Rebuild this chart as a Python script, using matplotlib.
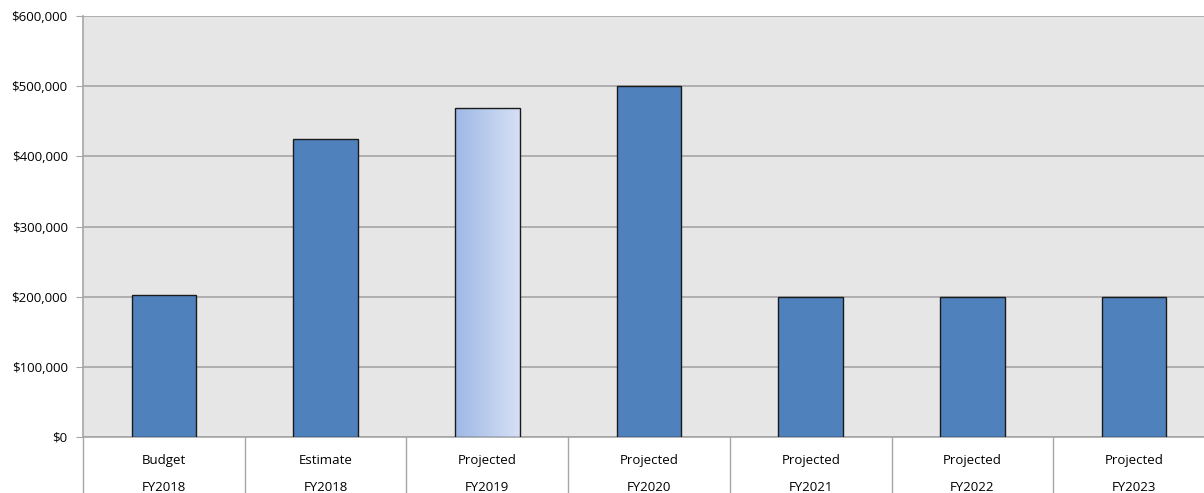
import numpy as np
import matplotlib.pyplot as plt
from matplotlib.ticker import FuncFormatter

# data
kinds = ['Budget', 'Estimate', 'Projected', 'Projected', 'Projected', 'Projected', 'Projected']
years = ['FY2018', 'FY2018', 'FY2019', 'FY2020', 'FY2021', 'FY2022', 'FY2023']
values = [202000, 425000, 469000, 500000, 200000, 200000, 200000]
highlight = 2  # the gradient-filled bar

plt.rcParams['font.family'] = ['Open Sans', 'DejaVu Sans']

fig = plt.figure(figsize=(12.04, 4.93), dpi=100)
# last category runs past the right edge of the image, as in the original
ax = fig.add_axes([83/1204, 56/493, (1215 - 83)/1204, 421/493])
ax.set_facecolor('#e6e6e6')

x = np.arange(len(values))
bars = ax.bar(x, values, width=0.4, color='#4f81bd', edgecolor='#1a1a1a', linewidth=1.0, zorder=3)

# gradient fill for the highlighted bar
b = bars[highlight]
b.set_facecolor('none')
grad = np.linspace(0, 1, 256).reshape(1, -1)
c0 = np.array([0.62, 0.72, 0.90])
c1 = np.array([0.84, 0.88, 0.96])
img = c0 + (c1 - c0) * grad[..., None]
im = ax.imshow(img, extent=[b.get_x(), b.get_x() + b.get_width(), 0, b.get_height()],
               aspect='auto', zorder=2.9)
im.set_clip_path(b)

ax.set_xlim(-0.5, len(values) - 0.5)
ax.set_ylim(0, 600000)
ax.set_yticks(np.arange(0, 600001, 100000))
ax.yaxis.set_major_formatter(FuncFormatter(lambda v, p: '${:,.0f}'.format(v)))
ax.grid(axis='y', color='#a6a6a6', linewidth=1.2, zorder=1)
ax.set_xticks([])
ax.tick_params(axis='y', length=5, color='#a6a6a6', labelsize=9.5, pad=6)

for s in ['top', 'right']:
    ax.spines[s].set_visible(False)
ax.spines['left'].set_color('#a6a6a6')
ax.spines['bottom'].set_color('#a6a6a6')
ax.spines['left'].set_linewidth(1.2)
ax.spines['bottom'].set_linewidth(1.2)

# two-level category labels
trans = ax.get_xaxis_transform()
for i in range(len(values)):
    ax.text(i, -0.055, kinds[i], transform=trans, ha='center', va='center', fontsize=9.5)
    ax.text(i, -0.12, years[i], transform=trans, ha='center', va='center', fontsize=9.5)
for i in range(len(values)):
    ax.plot([i - 0.5, i - 0.5], [0, -0.14], transform=trans, color='#a6a6a6',
            linewidth=1.0, clip_on=False)

fig.savefig('out.png', dpi=100)
